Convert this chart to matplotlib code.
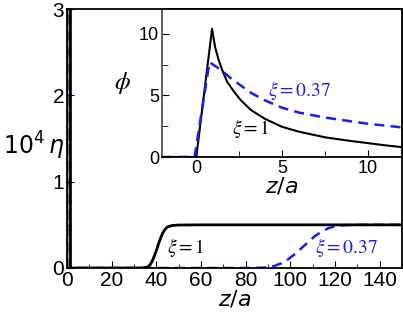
import matplotlib

matplotlib.use("Agg")
import matplotlib.pyplot as plt
from matplotlib.ticker import MultipleLocator

plt.rcParams["font.family"] = ["Liberation Sans", "DejaVu Sans"]
plt.rcParams["mathtext.fontset"] = "stix"

BLUE = "#1a1aff"

# main panel: 10^4 eta vs z/a
z_eta_1 = [0, 0.8, 1.2, 1.6, 2, 30, 34, 36, 37, 38, 39, 40, 41, 42, 43, 44, 45, 47, 50, 60, 150]
eta_1 = [0, 60, 60, 0, 0, 0, 0.002, 0.01, 0.03, 0.07, 0.13, 0.2, 0.28, 0.35, 0.41, 0.45, 0.475, 0.492, 0.498, 0.5, 0.5]
z_eta_037 = [0, 0.6, 1.0, 1.4, 2, 80, 86, 90, 93, 96, 99, 102, 105, 108, 111, 114, 117, 120, 124, 130, 150]
eta_037 = [0, 60, 60, 0, 0, 0, 0.002, 0.008, 0.025, 0.055, 0.1, 0.16, 0.23, 0.3, 0.37, 0.42, 0.46, 0.485, 0.496, 0.5, 0.5]

# inset: phi vs z/a
z_phi_1 = [-2, 0, 0.92, 1.1, 1.3, 1.5, 1.8, 2.2, 2.6, 3.2, 4, 5, 6, 7.5, 9, 10, 11, 12]
phi_1 = [0, 0, 10.4, 8.9, 7.9, 7.1, 6.1, 5.3, 4.6, 3.8, 3.1, 2.45, 2.05, 1.6, 1.3, 1.13, 0.95, 0.8]
z_phi_037 = [-2, -0.1, 0.77, 1.5, 2, 2.5, 3.2, 4, 5, 6, 7.5, 9, 10, 11, 12]
phi_037 = [0, 0, 7.7, 7.0, 6.4, 5.9, 5.2, 4.6, 4.0, 3.6, 3.2, 2.9, 2.7, 2.55, 2.4]

fig = plt.figure(figsize=(4.03, 3.14), dpi=100)
ax = fig.add_axes([0.166, 0.1465, 0.8315, 0.8245])
ax.plot(z_eta_037, eta_037, color=BLUE, lw=1.8, dashes=(4, 2.5))
ax.plot(z_eta_1, eta_1, color="black", lw=2.0)
ax.set_xlim(0, 150)
ax.set_ylim(0, 3)
ax.xaxis.set_major_locator(MultipleLocator(20))
ax.xaxis.set_minor_locator(MultipleLocator(10))
ax.yaxis.set_major_locator(MultipleLocator(1))
ax.yaxis.set_minor_locator(MultipleLocator(0.5))
ax.tick_params(which="both", direction="in", labelsize=15, pad=2)
ax.tick_params(which="major", length=5)
ax.tick_params(which="minor", length=3)
for s in ax.spines.values():
    s.set_linewidth(1.3)
ax.set_xlabel("$z/a$", fontsize=16, labelpad=0, math_fontfamily="dejavusans")
ax.text(-0.1, 0.47, r"$10^4\,\eta$", transform=ax.transAxes, fontsize=17,
        ha="center", va="center", math_fontfamily="dejavusans")
ax.text(45, 0.24, r"$\xi = 1$", fontsize=14, va="center")
ax.text(111, 0.24, r"$\xi = 0.37$", fontsize=14, va="center", color=BLUE)

ins = fig.add_axes([0.402, 0.5, 0.5955, 0.471])
ins.plot(z_phi_1, phi_1, color="black", lw=1.5)
ins.plot(z_phi_037, phi_037, color=BLUE, lw=1.8, dashes=(4, 2.5))
ins.set_xlim(-2, 12)
ins.set_ylim(0, 12)
ins.xaxis.set_major_locator(MultipleLocator(5))
ins.xaxis.set_minor_locator(MultipleLocator(2.5))
ins.yaxis.set_major_locator(MultipleLocator(5))
ins.yaxis.set_minor_locator(MultipleLocator(2.5))
ins.tick_params(which="both", direction="in", labelsize=13, pad=2)
ins.tick_params(which="major", length=5)
ins.tick_params(which="minor", length=4)
for s in ins.spines.values():
    s.set_linewidth(1.3)
ins.spines["left"].set_color("#555555")
ins.set_xlabel("$z/a$", fontsize=16, labelpad=0, math_fontfamily="dejavusans")
ins.set_ylabel(r"$\phi$", fontsize=18, rotation=0, labelpad=12, va="center")
ins.text(2.1, 2.3, r"$\xi = 1$", fontsize=14, va="center")
ins.text(4.2, 5.4, r"$\xi = 0.37$", fontsize=14, va="center", color=BLUE)

fig.savefig("out.png", dpi=100)
